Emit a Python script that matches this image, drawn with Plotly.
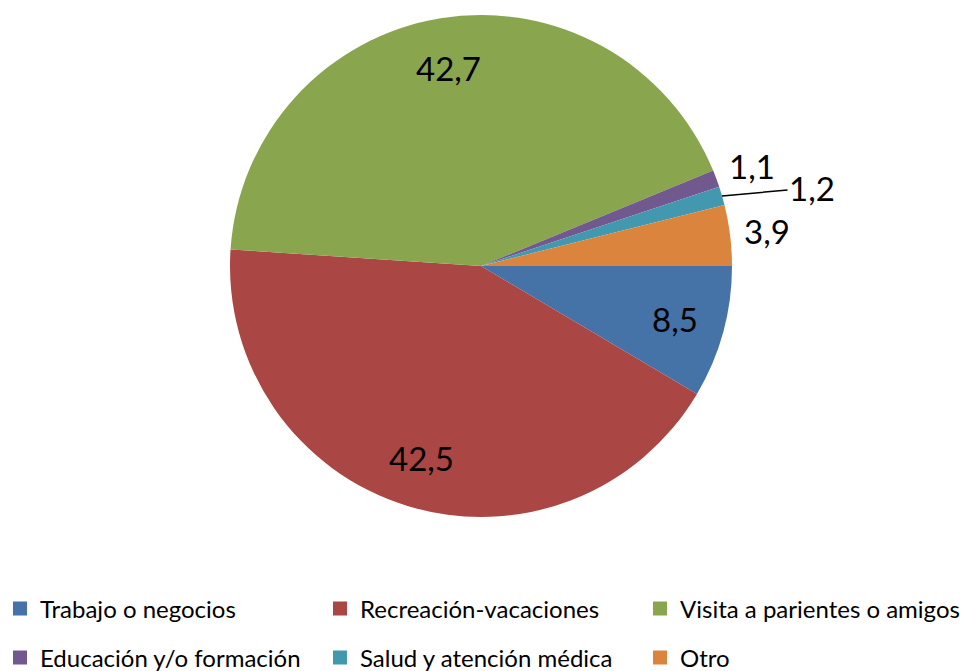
import math
import plotly.graph_objects as go

categories = ["Trabajo o negocios", "Recreación-vacaciones", "Visita a parientes o amigos",
              "Educación y/o formación", "Salud y atención médica", "Otro"]
values = [8.5, 42.5, 42.7, 1.1, 1.2, 3.9]
value_labels = ["8,5", "42,5", "42,7", "1,1", "1,2", "3,9"]
colors = ["#4572A7", "#AA4643", "#89A54E", "#71588F", "#4198AF", "#DB843D"]
label_inside = [True, True, True, False, False, False]
leader_line = [False, False, False, False, True, False]

W, H = 963, 671
cx, cy, r = 481, 266, 251

fig = go.Figure()
fig.add_trace(go.Pie(
    labels=categories, values=values,
    textinfo="none",
    marker=dict(colors=colors, line=dict(width=0)),
    sort=False, direction="clockwise", rotation=90,
    showlegend=False, hoverinfo="label+value",
    domain=dict(x=[(cx - r) / W, (cx + r) / W], y=[1 - (cy + r) / H, 1 - (cy - r) / H]),
))

# value labels placed along each slice's mid-angle (derived from the values)
total = sum(values)
cum = 0.0
for v, lab, inside, lead in zip(values, value_labels, label_inside, leader_line):
    mid = (cum + v / 2) / total * 2 * math.pi  # clockwise from 3 o'clock
    cum += v
    if lead:
        px = cx + r * math.cos(mid)
        py = cy + r * math.sin(mid)
        fig.add_annotation(
            x=px / W, y=1 - py / H, xref="paper", yref="paper",
            text=lab, showarrow=True, arrowhead=0, arrowwidth=1.5, arrowcolor="black",
            ax=90, ay=-8, xanchor="center", yanchor="middle",
            font=dict(family="Lato", size=33, color="black"),
        )
        continue
    f = 0.8 if inside else 1.15
    px = cx + f * r * math.cos(mid)
    py = cy + f * r * math.sin(mid)
    fig.add_annotation(
        x=px / W, y=1 - py / H, xref="paper", yref="paper",
        text=lab, showarrow=False, xanchor="center", yanchor="middle",
        font=dict(family="Lato", size=33, color="black"),
    )

for i, (cat, col) in enumerate(zip(categories, colors)):
    fig.add_trace(go.Scatter(
        x=[None], y=[None], mode="markers", name=cat,
        marker=dict(symbol="square", size=14, color=col),
        legend="legend" if i < 3 else "legend2",
        hoverinfo="skip",
    ))

leg_common = dict(orientation="h", xanchor="left", yanchor="middle",
                  font=dict(family="Lato", size=24, color="black"),
                  entrywidth=275, entrywidthmode="pixels",
                  bgcolor="rgba(0,0,0,0)", itemclick=False, itemdoubleclick=False)

fig.update_layout(
    width=W, height=H,
    margin=dict(l=0, r=0, t=0, b=0, autoexpand=False),
    paper_bgcolor="white", plot_bgcolor="white",
    xaxis=dict(visible=False), yaxis=dict(visible=False),
    legend=dict(x=0, y=1 - 609 / H, **leg_common),
    legend2=dict(x=0, y=1 - 658 / H, **leg_common),
)

fig.write_html("out.html", config={"displayModeBar": False},
               post_script="document.body.style.margin='0';")
